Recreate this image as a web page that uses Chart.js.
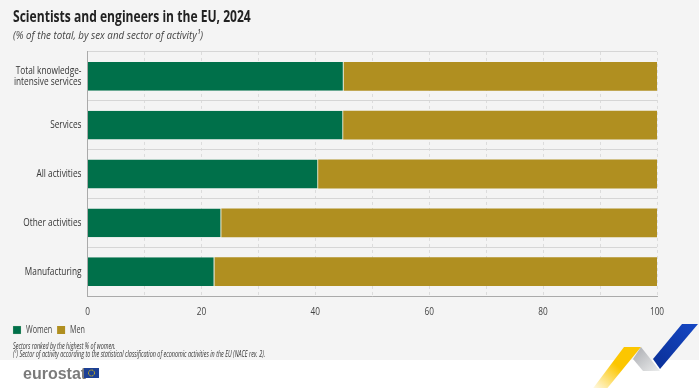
<!DOCTYPE html>
<html>
<head>
<meta charset="utf-8">
<title>Scientists and engineers in the EU, 2024</title>
<script src="https://cdn.jsdelivr.net/npm/chart.js@4"></script>
<style>
html, body { margin: 0; padding: 0; background: #fff; }
#wrap { position: relative; width: 699px; height: 388px; overflow: hidden; background: #fff; }
#band { position: absolute; left: 0; top: 0; width: 699px; height: 360px; background: #f4f4f4; }
#chart { position: absolute; left: 0; top: 0; }
#notes { position: absolute; left: 13px; top: 342px; font: italic 9px/8px "Open Sans", sans-serif; color: #333; white-space: nowrap; transform: scaleX(0.605); transform-origin: 0 0; }
#logo { position: absolute; left: 23px; top: 364px; font: bold 16px/20px "Liberation Sans", sans-serif; color: #7b7b7b; }
#flag { position: absolute; left: 84px; top: 368px; }
#ribbon { position: absolute; left: 0; top: 0; }
</style>
</head>
<body>
<div id="wrap">
  <div id="band"></div>
  <svg id="ribbon" width="699" height="388" viewBox="0 0 699 388">
    <defs>
      <linearGradient id="gy" x1="1" y1="0" x2="0" y2="1"><stop offset="0.45" stop-color="#fcc600"/><stop offset="1" stop-color="#fcc600" stop-opacity="0"/></linearGradient>
      <linearGradient id="gb" x1="1" y1="0" x2="0" y2="1"><stop offset="0" stop-color="#1547c4"/><stop offset="1" stop-color="#0a2f96"/></linearGradient>
      <linearGradient id="gg" x1="0" y1="0" x2="1" y2="1"><stop offset="0" stop-color="#a9abb0"/><stop offset="1" stop-color="#eceded"/></linearGradient>
    </defs>
    <polygon points="624,347 641,347 605,391 591,391" fill="url(#gy)"/>
    <polygon points="641,347 633,359 643,371 660,371" fill="url(#gg)"/>
    <polygon points="682,324 698,324 660,369 653,359" fill="url(#gb)"/>
  </svg>
  <canvas id="chart" width="699" height="388"></canvas>
  <div id="notes">Sectors ranked by the highest % of women.<br>(¹) Sector of activity according to the statistical classification of economic activities in the EU (NACE rev. 2).</div>
  <div id="logo">eurostat</div>
  <svg id="flag" width="15" height="10" viewBox="0 0 15 10"><rect width="15" height="10" fill="#1c3f94"/><circle cx="7.5" cy="5" r="3" fill="none" stroke="#f5d000" stroke-width="1" stroke-dasharray="1 .6"/></svg>
</div>
<script>
const categories = [["Total knowledge-", "intensive services"], "Services", "All activities", "Other activities", "Manufacturing"];
const women = [45.0, 44.9, 40.5, 23.5, 22.3];
const men = [55.0, 55.1, 59.5, 76.5, 77.7];
const face = '"Open Sans", sans-serif';

// no condensed font installed, so squeeze the canvas text sideways
const canvas = document.getElementById('chart');
const ctx = canvas.getContext('2d');
const fillText = ctx.fillText.bind(ctx);
const measureText = ctx.measureText.bind(ctx);
const squeeze = () => (ctx.font.includes('italic') ? 0.85 : 0.72);
ctx.fillText = (t, x, y) => {
    const k = squeeze();
    ctx.save();
    ctx.translate(x, y);
    ctx.scale(k, 1);
    fillText(t, 0, 0);
    ctx.restore();
};
ctx.measureText = t => ({ width: measureText(t).width * squeeze() });

// chart.js indents the legend by its padding, pull it back to the margin
const legendLeft = {
    id: 'legendLeft',
    afterLayout(chart) { chart.legend.left -= 5; }
};

new Chart(canvas, {
    type: 'bar',
    data: {
        labels: categories,
        datasets: [
            { label: 'Women', data: women, backgroundColor: '#00704a', borderColor: '#cdd6b4', borderWidth: { right: 1 }, borderSkipped: false },
            { label: 'Men', data: men, backgroundColor: '#b08f20' }
        ]
    },
    plugins: [legendLeft],
    options: {
        indexAxis: 'y',
        responsive: false,
        animation: false,
        layout: { padding: { left: 13, right: 42, top: 7, bottom: 43 } },
        datasets: { bar: { categoryPercentage: 0.59, barPercentage: 1 } },
        plugins: {
            title: {
                display: true, text: 'Scientists and engineers in the EU, 2024', align: 'start', color: '#222',
                font: { family: face, size: 16.8, weight: '700' }, padding: { top: 0, bottom: 2 }
            },
            subtitle: {
                display: true, text: '(% of the total, by sex and sector of activity¹)', align: 'start', color: '#444',
                font: { family: face, size: 11.5, style: 'italic' }, padding: { top: 0, bottom: 9 }
            },
            legend: {
                position: 'bottom', align: 'start',
                labels: { boxWidth: 8, boxHeight: 8, padding: 5, color: '#444', font: { family: face, size: 10 } }
            },
            tooltip: { enabled: false }
        },
        scales: {
            x: {
                stacked: true, min: 0, max: 100,
                afterFit: s => { s.height = 24; },
                border: { color: '#aaa', width: 1, dash: [3, 3] },
                grid: { color: '#dcdcdc', drawTicks: false },
                ticks: {
                    stepSize: 10, autoSkip: false, maxRotation: 0, padding: 9, color: '#444',
                    font: { family: face, size: 11.5 },
                    callback: v => (v % 20 === 0 ? v : '')
                }
            },
            y: {
                stacked: true,
                afterFit: s => { s.width = 74.5; },
                border: { color: '#aaa', width: 1 },
                grid: { color: '#d6d6d6', drawTicks: false },
                ticks: {
                    autoSkip: false, padding: 6, color: '#333',
                    font: { family: face, size: 11.5, lineHeight: 0.95 }
                }
            }
        }
    }
});
</script>
</body>
</html>
